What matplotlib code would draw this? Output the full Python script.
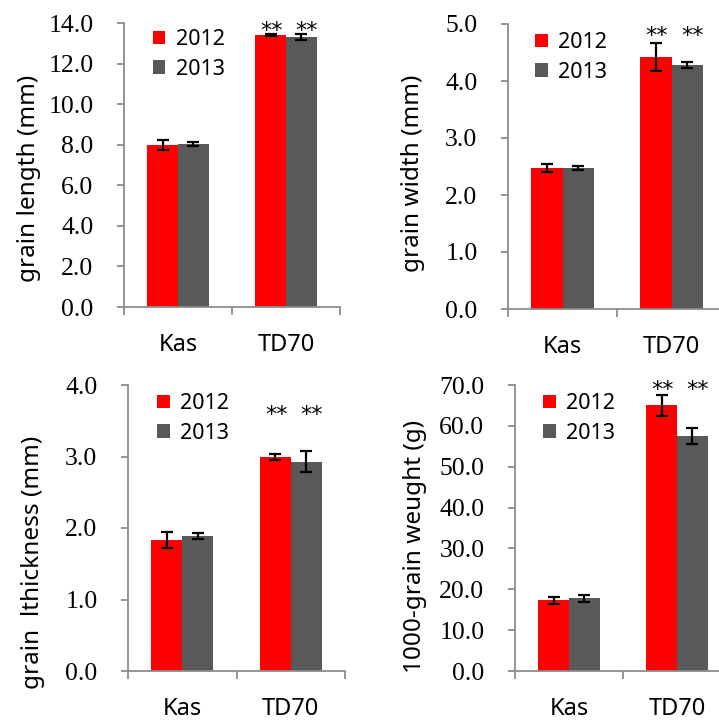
import matplotlib
matplotlib.use("Agg")
import matplotlib.pyplot as plt
import numpy as np

# Data
lines = ["Kas", "TD70"]
years = ["2012", "2013"]

length_2012 = [8.00, 13.40]
length_2013 = [8.05, 13.30]
length_err_2012 = [0.25, 0.06]
length_err_2013 = [0.10, 0.15]

width_2012 = [2.47, 4.42]
width_2013 = [2.47, 4.28]
width_err_2012 = [0.07, 0.25]
width_err_2013 = [0.04, 0.05]

thick_2012 = [1.83, 2.99]
thick_2013 = [1.89, 2.93]
thick_err_2012 = [0.11, 0.04]
thick_err_2013 = [0.04, 0.15]

weight_2012 = [17.3, 65.0]
weight_2013 = [17.8, 57.5]
weight_err_2012 = [0.8, 2.5]
weight_err_2013 = [0.9, 2.0]

RED = "#FF0000"
GRAY = "#595959"
SPINE = "#8C8C8C"
SANS = "Noto Sans"
SERIF = "Liberation Serif"

W, H = 719, 721
fig = plt.figure(figsize=(W / 100, H / 100), dpi=100)


def px_axes(left, top, width, height):
    return fig.add_axes([left / W, (H - top - height) / H, width / W, height / H])


panels = [
    dict(box=(124, 23, 216, 284), ylim=14, step=2.0,
         ylabel="grain length (mm)", v=(length_2012, length_2013),
         e=(length_err_2012, length_err_2013), star_y=13.9,
         lab=(-0.44, 0.454), leg=(0.134, 0.979)),
    dict(box=(508, 24, 218, 285), ylim=5, step=1.0,
         ylabel="grain width (mm)", v=(width_2012, width_2013),
         e=(width_err_2012, width_err_2013), star_y=4.90,
         lab=(-0.436, 0.477), leg=(0.124, 0.972)),
    dict(box=(128, 385, 217, 286), ylim=4, step=1.0,
         ylabel="grain  lthickness (mm)", v=(thick_2012, thick_2013),
         e=(thick_err_2012, thick_err_2013), star_y=3.66,
         lab=(-0.438, 0.378), leg=(0.134, 0.972)),
    dict(box=(515, 385, 216, 286), ylim=70, step=10.0,
         ylabel="1000-grain weught (g)", v=(weight_2012, weight_2013),
         e=(weight_err_2012, weight_err_2013), star_y=70.2,
         lab=(-0.463, 0.437), leg=(0.130, 0.972)),
]

x = np.arange(len(lines)) + 0.5
bw = 1 / 3.5

for p in panels:
    ax = px_axes(*p["box"])
    v12, v13 = p["v"]
    e12, e13 = p["e"]
    ekw = dict(ecolor="black", elinewidth=1.6, capsize=4.5, capthick=1.6)
    ax.bar(x - bw / 2, v12, bw, yerr=e12, color=RED, label=years[0],
           error_kw=ekw, zorder=2)
    ax.bar(x + bw / 2, v13, bw, yerr=e13, color=GRAY, label=years[1],
           error_kw=ekw, zorder=2)

    # significance marks over TD70
    for dx in (-bw / 2 + 0.01, bw / 2 + 0.05):
        ax.annotate("**", xy=(x[1] + dx, p["star_y"]), xytext=(0, -8.6),
                    textcoords="offset points", ha="center", va="baseline",
                    fontsize=16, family="DejaVu Sans", color="black",
                    annotation_clip=False)

    ax.set_xlim(0, 2)
    ax.set_ylim(0, p["ylim"])
    ax.set_yticks(np.arange(0, p["ylim"] + 1e-9, p["step"]))
    ax.set_yticklabels([f"{t:.1f}" for t in ax.get_yticks()],
                       family=SERIF, fontsize=18.5)
    ax.set_xticks([0, 1, 2])
    ax.set_xticklabels([])
    ax.set_xticks(x, minor=True)
    ax.set_xticklabels(lines, minor=True, family=SANS, fontsize=17)
    ax.tick_params(axis="x", which="minor", length=0, pad=19)
    ax.tick_params(axis="x", which="major", length=6, width=1.3, color=SPINE,
                   direction="out")
    ax.tick_params(axis="y", length=5, width=1.3, color=SPINE, pad=17,
                   direction="out")

    for s in ("top", "right"):
        ax.spines[s].set_visible(False)
    for s in ("left", "bottom"):
        ax.spines[s].set_color(SPINE)
        ax.spines[s].set_linewidth(1.3)

    ax.set_ylabel(p["ylabel"], family=SANS, fontsize=17.5, va="center")
    ax.yaxis.set_label_coords(*p["lab"])

    ax.legend(loc="upper left", bbox_to_anchor=p["leg"], frameon=False,
              prop=dict(family=SANS, size=15.5), handlelength=0.58,
              handleheight=0.58, handletextpad=0.47, labelspacing=0.4,
              borderaxespad=0, borderpad=0)

fig.savefig("out.png", dpi=100)
